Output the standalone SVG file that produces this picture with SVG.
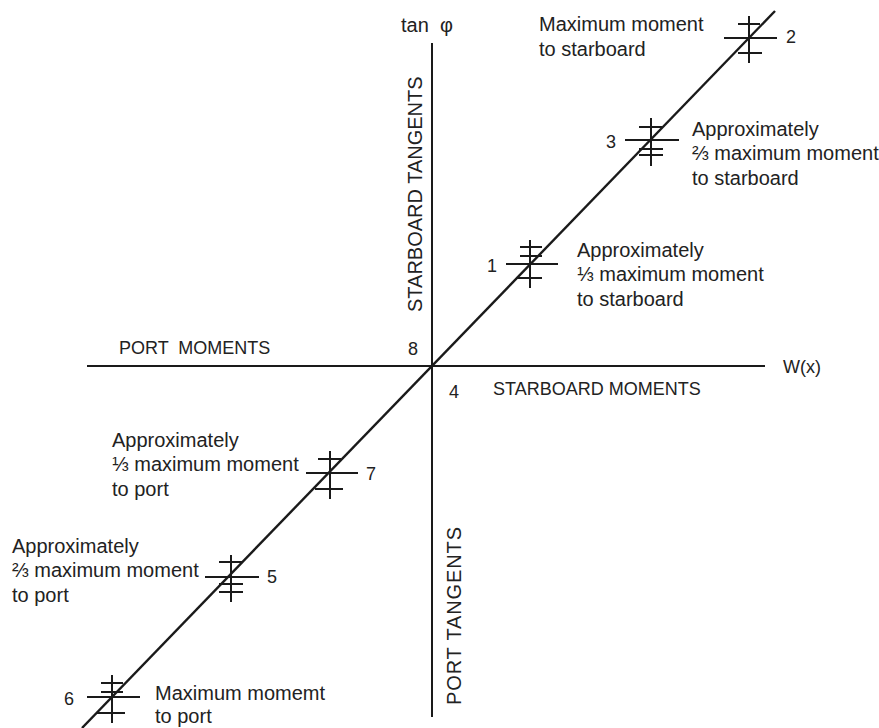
<svg xmlns="http://www.w3.org/2000/svg" width="879" height="728" viewBox="0 0 879 728">
<style>
.ln{stroke:#1a1a1a;stroke-width:2;fill:none}
.dg{stroke:#1a1a1a;stroke-width:2.4;fill:none}
.t{font-family:"Liberation Sans",Arial,sans-serif;font-size:20px;fill:#222}
.c{font-family:"Liberation Sans",Arial,sans-serif;font-size:18px;fill:#222}
</style>
<rect width="879" height="728" fill="#fff"/>
<g id="axes">
<line class="ln" x1="432" y1="43" x2="432" y2="717"/>
<line class="ln" x1="87" y1="366" x2="765" y2="366"/>
<text class="t" x="401" y="32">tan</text><text class="t" x="440" y="32">φ</text>
<text class="c" x="783" y="373">W(x)</text>
<text class="c" x="119" y="354" xml:space="preserve">PORT  MOMENTS</text>
<text class="c" x="493" y="395">STARBOARD MOMENTS</text>
<text class="t" transform="translate(422,312) rotate(-90)">STARBOARD TANGENTS</text>
<text class="t" transform="translate(461,705) rotate(-90)" textLength="178">PORT TANGENTS</text>
<text class="c" x="408" y="355">8</text>
<text class="c" x="449" y="398">4</text>
</g>
<g id="connectors">
<line class="dg" x1="82" y1="728" x2="775" y2="11"/>
</g>
<g id="p2">
<path class="ln" d="M724 38H777M749 16V63M738 24H760M738 53H762"/>
<text class="c" x="786" y="43">2</text>
<text class="t" x="539" y="31">Maximum moment</text>
<text class="t" x="539" y="56">to starboard</text>
</g>
<g id="p3">
<path class="ln" d="M625 140H679M651 118V166M639 127H662M639 149H663M639 155H663"/>
<text class="c" x="606" y="148">3</text>
<text class="t" x="692" y="136">Approximately</text>
<text class="t" x="692" y="160">⅔ maximum moment</text>
<text class="t" x="692" y="185">to starboard</text>
</g>
<g id="p1">
<path class="ln" d="M506 264H558M530 240V288M520 247H542M520 256H542M517 278H542"/>
<text class="c" x="487" y="272">1</text>
<text class="t" x="577" y="257">Approximately</text>
<text class="t" x="577" y="281">⅓ maximum moment</text>
<text class="t" x="577" y="306">to starboard</text>
</g>
<g id="p7">
<path class="ln" d="M306 473H358M330 451V499M318 459H341M315 489H343"/>
<text class="c" x="366" y="480">7</text>
<text class="t" x="112" y="447">Approximately</text>
<text class="t" x="112" y="471">⅓ maximum moment</text>
<text class="t" x="112" y="496">to port</text>
</g>
<g id="p5">
<path class="ln" d="M205 577H259M231 555V602M219 562H242M219 584H243M219 592H243"/>
<text class="c" x="267" y="583">5</text>
<text class="t" x="12" y="553">Approximately</text>
<text class="t" x="12" y="577">⅔ maximum moment</text>
<text class="t" x="12" y="602">to port</text>
</g>
<g id="p6">
<path class="ln" d="M87 697H140M112 675V723M101 683H123M101 692H123M97 713H125"/>
<text class="c" x="64" y="705">6</text>
<text class="t" x="155" y="700">Maximum momemt</text>
<text class="t" x="155" y="723">to port</text>
</g>
</svg>
